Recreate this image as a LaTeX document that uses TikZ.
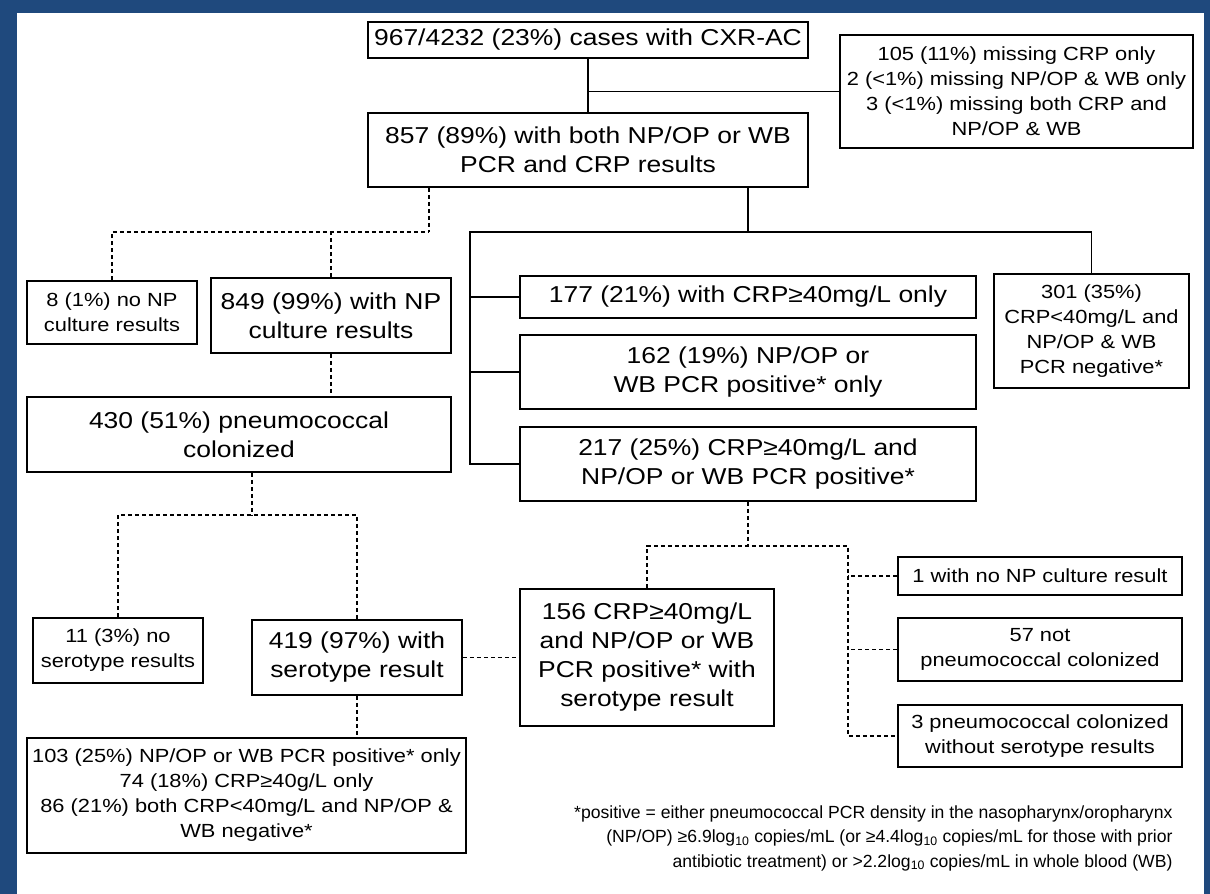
\documentclass[tikz,border=0pt]{standalone}
\usepackage{fontspec}
\setmainfont[FakeStretch=1.15]{Liberation Sans}
\newfontfamily\notefont{Liberation Sans}
\definecolor{frameblue}{RGB}{31,73,125}
\tikzset{
	box/.style={draw,line width=1.8pt,inner sep=0pt,align=center,font=\fontsize{23}{29}\selectfont},
	sbox/.style={box,font=\fontsize{19}{25}\selectfont},
	link/.style={line width=1.8pt},
	dotlink/.style={line width=1.8pt,dash pattern=on 4pt off 3pt},
}
\begin{document}
\begin{tikzpicture}[x=1pt,y=-1pt]
		\fill[frameblue] (0,0) rectangle (1210,894);
		\fill[white] (17,13) rectangle (1204,894);
		\useasboundingbox (0,0) rectangle (1210,894);
		\node[box,minimum width=440,minimum height=36] (cxr) at (588,40){967/4232 (23\%) cases with CXR-AC};
		\node[sbox,minimum width=353,minimum height=113] (miss) at (1016.5,91.5){105 (11\%) missing CRP only\\2 (<1\%) missing NP/OP \& WB only\\3 (<1\%) missing both CRP and\\NP/OP \& WB};
		\node[box,minimum width=440,minimum height=74] (both) at (588,150){857 (89\%) with both NP/OP or WB\\PCR and CRP results};
		\node[sbox,minimum width=170,minimum height=63] (nonp) at (112,312.5){8 (1\%) no NP\\culture results};
		\node[box,minimum width=240,minimum height=75] (withnp) at (331,315.5){849 (99\%) with NP\\culture results};
		\node[box,minimum width=424,minimum height=75] (colon) at (239,434.5){430 (51\%) pneumococcal\\colonized};
		\node[box,minimum width=456,minimum height=42] (crp) at (748,297){177 (21\%) with CRP≥40mg/L only};
		\node[box,minimum width=456,minimum height=74] (pcr) at (748,372){162 (19\%) NP/OP or\\WB PCR positive* only};
		\node[box,minimum width=456,minimum height=74] (crppcr) at (748,464){217 (25\%) CRP≥40mg/L and\\NP/OP or WB PCR positive*};
		\node[sbox,minimum width=195,minimum height=114] (neg) at (1091.5,331){301 (35\%)\\CRP<40mg/L and\\NP/OP \& WB\\PCR negative*};
		\node[box,minimum width=254,minimum height=137] (sero) at (647,657.5){156 CRP≥40mg/L\\and NP/OP or WB\\PCR positive* with\\serotype result};
		\node[sbox,minimum width=284,minimum height=38] (nocult) at (1040,576){1 with no NP culture result};
		\node[sbox,minimum width=284,minimum height=63] (notcol) at (1040,649.5){57 not\\pneumococcal colonized};
		\node[sbox,minimum width=284,minimum height=62] (nosero) at (1040,736){3 pneumococcal colonized\\without serotype results};
		\node[sbox,minimum width=170,minimum height=65] (noser) at (118,650.5){11 (3\%) no\\serotype results};
		\node[box,minimum width=210,minimum height=75] (withser) at (357,657.5){419 (97\%) with\\serotype result};
		\node[sbox,minimum width=439,minimum height=115] (split) at (246.5,795.5){103 (25\%) NP/OP or WB PCR positive* only\\74 (18\%) CRP≥40g/L only\\86 (21\%) both CRP<40mg/L and NP/OP \&\\WB negative*};
		\node[anchor=east,align=right,font=\notefont\fontsize{17.6}{24.5}\selectfont] (note) at (1176,838){*positive = either pneumococcal PCR density in the nasopharynx/oropharynx\\(NP/OP) ≥6.9log\textsubscript{10} copies/mL (or ≥4.4log\textsubscript{10} copies/mL for those with prior\\antibiotic treatment) or >2.2log\textsubscript{10} copies/mL in whole blood (WB)};
		\coordinate (jl) at (429,232);
		\coordinate (jr) at (748,232);
		\coordinate (bus) at (470,232);
		\coordinate (jm) at (252,515);
		\coordinate (jb) at (748,546);
		\coordinate (jk) at (848,546);
		\draw[link] (cxr) -- (both);
		\draw[link] (miss.west) -- (miss.west -| cxr.south);
		\draw[link] (both.south -| jr) -- (jr);
		\draw[link] (neg.north) |- (bus) |- (crppcr.west);
		\draw[link] (crp.west) -- (crp.west -| bus);
		\draw[link] (pcr.west) -- (pcr.west -| bus);
		\draw[dotlink] (both.south -| jl) -- (jl);
		\draw[dotlink] (nonp.north) |- (jl);
		\draw[dotlink] (withnp.north) -- (withnp.north |- jl);
		\draw[dotlink] (withnp.south) -- (withnp.south |- colon.north);
		\draw[dotlink] (colon.south -| jm) -- (jm);
		\draw[dotlink] (noser.north) |- (jm) -| (withser.north);
		\draw[dotlink] (withser.east) -- (sero.west);
		\draw[dotlink] (withser.south) -- (withser.south |- split.north);
		\draw[dotlink] (crppcr.south) -- (jb);
		\draw[dotlink] (sero.north) |- (jk) |- (nosero.west);
		\draw[dotlink] (nocult.west) -- (nocult.west -| jk);
		\draw[dotlink] (notcol.west) -- (notcol.west -| jk);
	\end{tikzpicture}
\end{document}
